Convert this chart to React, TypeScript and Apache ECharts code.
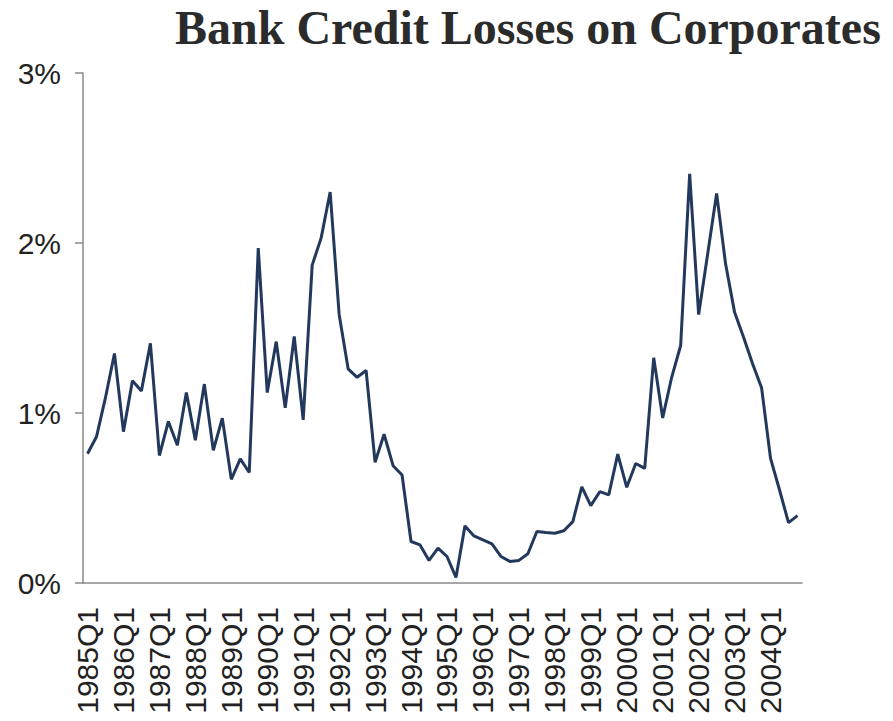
import React, { useEffect, useRef } from "react";
import * as echarts from "echarts";

const years: number[] = [];
for (let y = 1985; y <= 2004; y++) years.push(y);
const quarters = ["Q1", "Q2", "Q3", "Q4"];
const categories: string[] = years.flatMap((y) => quarters.map((q) => `${y}${q}`));

const lossValues: number[] = [
  0.76, 0.86, 1.09, 1.35, 0.89, 1.19, 1.13, 1.41,
  0.75, 0.95, 0.81, 1.12, 0.84, 1.17, 0.78, 0.97,
  0.61, 0.73, 0.65, 1.97, 1.12, 1.42, 1.03, 1.45,
  0.96, 1.87, 2.03, 2.3, 1.58, 1.26, 1.21, 1.25,
  0.71, 0.875, 0.69, 0.635, 0.244, 0.224, 0.133, 0.205,
  0.156, 0.033, 0.336, 0.277, 0.254, 0.23, 0.156, 0.127,
  0.133, 0.172, 0.303, 0.297, 0.293, 0.307, 0.361, 0.566,
  0.455, 0.537, 0.518, 0.758, 0.563, 0.703, 0.674, 1.325,
  0.971, 1.21, 1.397, 2.407, 1.579, 1.934, 2.292, 1.876,
  1.592, 1.446, 1.29, 1.149, 0.733, 0.547, 0.355, 0.396,
];

const yTicks = [0, 1, 2, 3];
const titleText = "Bank Credit Losses on Corporates";

export default function App() {
  const ref = useRef<HTMLDivElement>(null);
  useEffect(() => {
    if (!ref.current) return;
    const chart = echarts.init(ref.current, null, { renderer: "svg" });
    chart.setOption({
      animation: false,
      backgroundColor: "#ffffff",
      title: {
        text: titleText,
        left: 170,
        top: -2,
        textStyle: {
          fontFamily: "Liberation Serif",
          fontWeight: "bold",
          fontSize: 48,
          color: "#2b2b2b",
        },
      },
      grid: { left: 83, right: 91, top: 73, bottom: 138, containLabel: false },
      xAxis: {
        type: "category",
        data: categories,
        boundaryGap: true,
        axisLine: { lineStyle: { color: "#8a8a8a", width: 1.5 } },
        axisTick: { interval: 3, length: 8, lineStyle: { color: "#8a8a8a", width: 1.5 } },
        axisLabel: {
          interval: 3,
          rotate: 90,
          margin: 24,
          fontFamily: "Liberation Sans",
          fontSize: 30,
          color: "#222",
        },
        splitLine: { show: false },
      },
      yAxis: {
        type: "value",
        min: yTicks[0],
        max: yTicks[yTicks.length - 1],
        interval: 1,
        axisLine: { show: true, lineStyle: { color: "#8a8a8a", width: 1.5 } },
        axisTick: { show: true, length: 8, lineStyle: { color: "#8a8a8a", width: 1.5 } },
        axisLabel: {
          formatter: "{value}%",
          margin: 22,
          fontFamily: "Liberation Sans",
          fontSize: 30,
          color: "#222",
        },
        splitLine: { show: false },
      },
      series: [
        {
          type: "line",
          data: lossValues,
          symbol: "none",
          lineStyle: { color: "#22385c", width: 3 },
        },
      ],
    });
    return () => chart.dispose();
  }, []);
  return (
    <div
      ref={ref}
      style={{ position: "absolute", left: 0, top: 0, width: 893, height: 721 }}
    />
  );
}
